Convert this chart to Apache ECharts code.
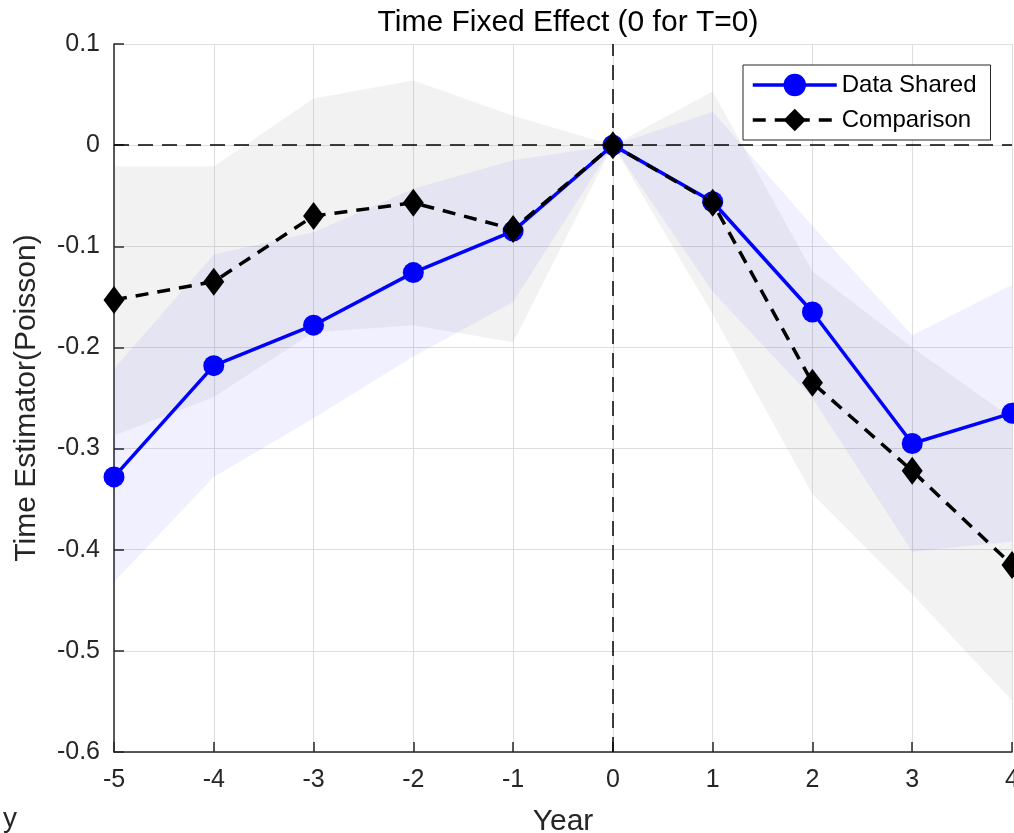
<!DOCTYPE html>
<html>
<head>
<meta charset="utf-8">
<script src="https://cdn.jsdelivr.net/npm/echarts@6/dist/echarts.min.js"></script>
<style>
  html, body { margin: 0; padding: 0; background: #fff; }
  #main { width: 1014px; height: 833px; }
</style>
</head>
<body>
<div id="main"></div>
<script>
// years on the x axis
var years = [-5, -4, -3, -2, -1, 0, 1, 2, 3, 4];

// Data Shared estimates and its confidence band
var sharedValues = [-0.328, -0.218, -0.178, -0.126, -0.085, 0, -0.056, -0.165, -0.295, -0.265];
var sharedLower = [-0.432, -0.328, -0.270, -0.209, -0.155, 0, -0.145, -0.250, -0.402, -0.392];
var sharedUpper = [-0.221, -0.108, -0.086, -0.043, -0.015, 0, 0.033, -0.080, -0.188, -0.138];

// Comparison estimates and its confidence band
var compValues = [-0.153, -0.135, -0.070, -0.057, -0.083, 0, -0.057, -0.235, -0.322, -0.415];
var compLower = [-0.287, -0.249, -0.185, -0.178, -0.195, 0, -0.167, -0.345, -0.444, -0.549];
var compUpper = [-0.021, -0.021, 0.046, 0.064, 0.029, 0, 0.053, -0.125, -0.200, -0.270];

var fontName = "Liberation Sans";
var myChart = echarts.init(document.getElementById("main"));

function bandSeries(name, lower, upper, fill) {
  return {
    name: name,
    type: "custom",
    silent: true,
    z: 1,
    data: years.map(function (x, i) { return [x, lower[i], upper[i]]; }),
    renderItem: function (params, api) {
      if (params.dataIndex !== 0) return;
      var pts = [];
      for (var i = 0; i < years.length; i++) pts.push(api.coord([years[i], upper[i]]));
      for (var j = years.length - 1; j >= 0; j--) pts.push(api.coord([years[j], lower[j]]));
      return { type: "polygon", shape: { points: pts }, style: { fill: fill } };
    }
  };
}

var option = {
  backgroundColor: "#fff",
  animation: false,
  textStyle: { fontFamily: fontName },
  title: {
    text: "Time Fixed Effect (0 for T=0)",
    left: 563,
    textAlign: "center",
    top: 3,
    textStyle: { fontFamily: fontName, fontSize: 30, fontWeight: "normal", color: "#000" }
  },
  grid: { left: 114, right: 2, top: 44, bottom: 81, outerBoundsMode: "none" },
  legend: {
    data: [
      { name: "Data Shared", lineStyle: { width: 3.5 } },
      { name: "Comparison", lineStyle: { width: 3.5 } }
    ],
    orient: "vertical",
    left: 743,
    top: 65,
    padding: [8, 14, 8, 8],
    itemGap: 11,
    itemWidth: 84,
    itemHeight: 28,
    borderColor: "#262626",
    borderWidth: 1,
    borderRadius: 0,
    backgroundColor: "#fff",
    textStyle: { fontFamily: fontName, fontSize: 24, color: "#000" }
  },
  xAxis: {
    type: "value",
    min: -5,
    max: 4,
    interval: 1,
    name: "Year",
    nameLocation: "middle",
    nameGap: 55,
    nameTextStyle: { fontFamily: fontName, fontSize: 30, color: "#262626" },
    axisLine: { onZero: false, lineStyle: { color: "#262626", width: 1.5 } },
    axisTick: { inside: true, length: 10, lineStyle: { color: "#262626", width: 1.5 } },
    axisLabel: { fontFamily: fontName, fontSize: 25, color: "#262626", margin: 16 },
    splitLine: { show: true, lineStyle: { color: "#dedede", width: 1 } }
  },
  yAxis: {
    type: "value",
    min: -0.6,
    max: 0.1,
    interval: 0.1,
    name: "Time Estimator(Poisson)",
    nameLocation: "middle",
    nameRotate: 90,
    nameGap: 72,
    nameTextStyle: { fontFamily: fontName, fontSize: 30, color: "#262626" },
    axisLine: { show: true, onZero: false, lineStyle: { color: "#262626", width: 1.5 } },
    axisTick: { show: true, inside: true, length: 10, lineStyle: { color: "#262626", width: 1.5 } },
    axisLabel: {
      fontFamily: fontName, fontSize: 25, color: "#262626", margin: 14,
      formatter: function (v) { return Math.abs(v) < 1e-9 ? "0" : (+v.toFixed(1)).toString(); }
    },
    splitLine: { show: true, lineStyle: { color: "#dedede", width: 1 } }
  },
  graphic: [
    { type: "text", left: 3, top: 805, style: { text: "y", fontFamily: fontName, fontSize: 28, fill: "#262626" } }
  ],
  series: [
    bandSeries("sharedBand", sharedLower, sharedUpper, "rgba(0,0,255,0.06)"),
    bandSeries("compBand", compLower, compUpper, "rgba(128,128,128,0.1)"),
    {
      name: "zero",
      type: "line",
      data: [],
      silent: true,
      z: 2,
      markLine: {
        silent: true,
        symbol: "none",
        label: { show: false },
        lineStyle: { color: "#000", width: 1.5, type: [15, 9] },
        data: [{ xAxis: 0 }, { yAxis: 0 }]
      }
    },
    {
      name: "Data Shared",
      type: "line",
      z: 3,
      data: years.map(function (x, i) { return [x, sharedValues[i]]; }),
      symbol: "circle",
      symbolSize: 21,
      lineStyle: { color: "#0000ff", width: 3.5 },
      itemStyle: { color: "#0000ff" }
    },
    {
      name: "Comparison",
      type: "line",
      z: 4,
      data: years.map(function (x, i) { return [x, compValues[i]]; }),
      symbol: "diamond",
      symbolSize: [21, 28],
      lineStyle: { color: "#000", width: 3.5, type: [13, 9] },
      itemStyle: { color: "#000" }
    }
  ]
};

myChart.setOption(option);
</script>
</body>
</html>
